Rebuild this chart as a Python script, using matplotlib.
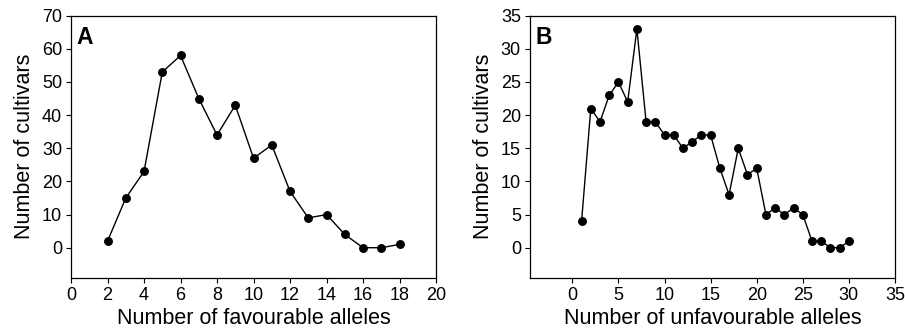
import matplotlib
matplotlib.use("Agg")
import matplotlib.pyplot as plt

plt.rcParams['font.family'] = ['Liberation Sans', 'DejaVu Sans']

fav_x = list(range(2, 19))
fav_n = [2, 15, 23, 53, 58, 45, 34, 43, 27, 31, 17, 9, 10, 4, 0, 0, 1]

unfav_x = list(range(1, 31))
unfav_n = [4, 21, 19, 23, 25, 22, 33, 19, 19, 17, 17, 15, 16, 17, 17,
           12, 8, 15, 11, 12, 5, 6, 5, 6, 5, 1, 1, 0, 0, 1]

fig = plt.figure(figsize=(9.05, 3.34), dpi=100)
axA = fig.add_axes([0.0785, 0.169, 0.4033, 0.784])
axB = fig.add_axes([0.5856, 0.169, 0.4033, 0.784])

def style(ax):
    for s in ax.spines.values():
        s.set_linewidth(0.9)
    ax.tick_params(direction='out', length=3.5, width=0.8, labelsize=13, pad=3)

axA.plot(fav_x, fav_n, color='black', lw=1, marker='o', ms=5.4)
axA.set_xlim(0, 20)
axA.set_ylim(-9, 70)
axA.set_xticks(range(0, 21, 2))
axA.set_yticks(range(0, 71, 10))
axA.set_xlabel('Number of favourable alleles', fontsize=15.5, labelpad=3)
axA.set_ylabel('Number of cultivars', fontsize=15.5, labelpad=5)
axA.text(0.014, 0.96, 'A', transform=axA.transAxes, fontsize=16.5,
         fontweight='bold', va='top', ha='left')
style(axA)

axB.plot(unfav_x, unfav_n, color='black', lw=1, marker='o', ms=5.4)
axB.set_xlim(-4.6, 35)
axB.set_ylim(-4.5, 35)
axB.set_xticks(range(0, 36, 5))
axB.set_yticks(range(0, 36, 5))
axB.set_xlabel('Number of unfavourable alleles', fontsize=15.5, labelpad=3)
axB.set_ylabel('Number of cultivars', fontsize=15.5, labelpad=5)
axB.text(0.014, 0.96, 'B', transform=axB.transAxes, fontsize=16.5,
         fontweight='bold', va='top', ha='left')
style(axB)

fig.savefig('out.png', dpi=100)
